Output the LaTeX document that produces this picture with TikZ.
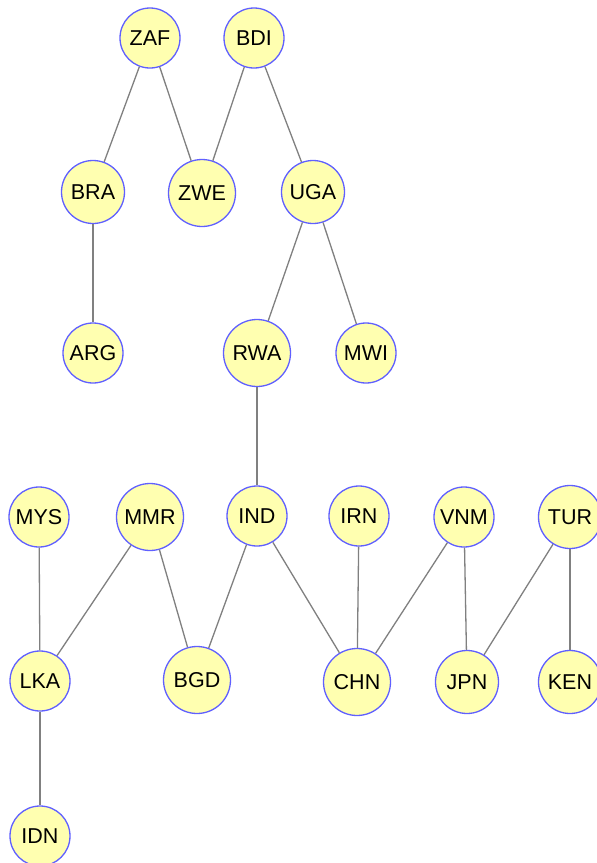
\documentclass[tikz,border=0pt]{standalone}
\usepackage{fontspec}
\setmainfont{Liberation Sans}
\definecolor{nodefill}{RGB}{255,255,176}
\definecolor{nodeline}{RGB}{96,96,255}
\definecolor{edgecol}{RGB}{128,128,128}
\begin{document}
\begin{tikzpicture}[x=1pt,y=-1pt,
  country/.style={circle,draw=nodeline,fill=nodefill,line width=1.3pt,inner sep=0pt,minimum size=60pt,font=\fontsize{21.5}{21.5}\selectfont},
  big/.style={minimum size=67pt},
  mid/.style={minimum size=63pt},
  link/.style={draw=edgecol,line width=1.3pt}]
\useasboundingbox (0,0) rectangle (597,863);
\fill[white] (0,0) rectangle (597,863);
\node[country] (ZAF) at (150,38) {ZAF};
\node[country] (BDI) at (254,38) {BDI};
\node[country,mid] (BRA) at (93,192) {BRA};
\node[country,big] (ZWE) at (202,193) {ZWE};
\node[country,mid] (UGA) at (313,192) {UGA};
\node[country] (ARG) at (93,353) {ARG};
\node[country,big] (RWA) at (257,353) {RWA};
\node[country] (MWI) at (366,353) {MWI};
\node[country] (MYS) at (39,517) {MYS};
\node[country,big] (MMR) at (150,517) {MMR};
\node[country] (IND) at (257,516) {IND};
\node[country] (IRN) at (359,516) {IRN};
\node[country] (VNM) at (464,517) {VNM};
\node[country,mid] (TUR) at (570,517) {TUR};
\node[country] (LKA) at (40,681) {LKA};
\node[country,big] (BGD) at (197,680) {BGD};
\node[country,big] (CHN) at (357,682) {CHN};
\node[country,mid] (JPN) at (467,682) {JPN};
\node[country,mid] (KEN) at (570,682) {KEN};
\node[country] (IDN) at (40,836) {IDN};
\foreach \a/\b in {ZAF/BRA,ZAF/ZWE,BDI/ZWE,BDI/UGA,BRA/ARG,UGA/RWA,UGA/MWI,RWA/IND,
  MYS/LKA,MMR/LKA,MMR/BGD,IND/BGD,IND/CHN,IRN/CHN,VNM/CHN,VNM/JPN,TUR/JPN,TUR/KEN,LKA/IDN}
  \draw[link] (\a) -- (\b);
\end{tikzpicture}
\end{document}
